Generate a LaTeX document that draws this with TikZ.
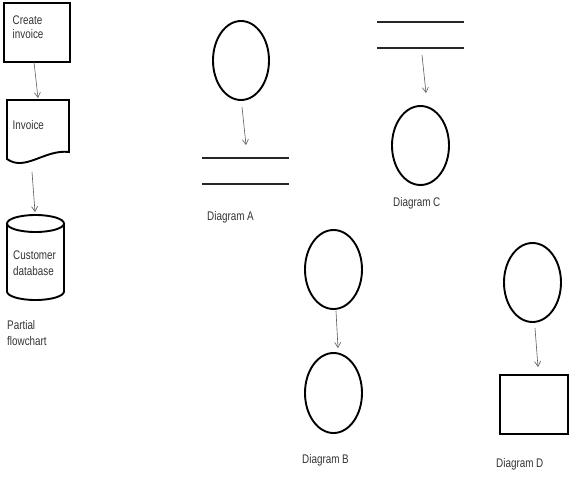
\documentclass[tikz,border=0pt]{standalone}
\usepackage{fontspec}
\setmainfont[FakeStretch=0.79]{Liberation Sans}
\usetikzlibrary{shapes.geometric,arrows.meta}
\begin{document}
\begin{tikzpicture}[x=1pt,y=-1pt,
  shp/.style={draw=black,line width=1.9pt},
  circ/.style={shp,ellipse,minimum width=56pt,minimum height=79pt,inner sep=0pt},
  store/.style={draw=black!85,line width=1.2pt},
  arr/.style={draw=black!65,line width=0.6pt,-{Straight Barb[length=5pt,width=6pt]}},
  lbl/.style={font=\fontsize{12.5}{15}\selectfont,text=black!80,inner sep=0pt,anchor=base west,align=left}]
\useasboundingbox (0,0) rectangle (584,477);

% Partial flowchart
\node[shp,line width=2pt,rectangle,minimum width=66pt,minimum height=59pt,inner sep=0pt,anchor=north west] (create) at (3,2) {};
\node[lbl,anchor=north west,font=\fontsize{12.5}{14.5}\selectfont] (createtxt) at (12.5,15.5) {Create\\invoice};

\draw[shp] (7,100) -- (69,100) -- (69,152) .. controls (45,149) and (25,172) .. (7,159) -- cycle;
\node[lbl] (invtxt) at (12.5,129) {Invoice};

\draw[shp] (35.5,223.5) ellipse [x radius=28.5, y radius=8.5];
\draw[shp] (7,223.5) -- (7,291.5) arc[start angle=180,end angle=0,x radius=28.5,y radius=8.5] -- (64,223.5);
\node[lbl,anchor=north west,font=\fontsize{12.5}{16.5}\selectfont] (custtxt) at (13,250.5) {Customer\\database};

\node[lbl,anchor=north west,font=\fontsize{12.5}{16}\selectfont] (partial) at (7,320.5) {Partial\\flowchart};

\coordinate (f1s) at (34,62);  \coordinate (f1e) at (38,98);
\coordinate (f2s) at (32,172); \coordinate (f2e) at (35,212);
\draw[arr] (f1s) -- (f1e);
\draw[arr] (f2s) -- (f2e);

% Diagram A
\node[circ] (cA) at (241,60.5) {};
\coordinate (sA1l) at (202,158); \coordinate (sA1r) at (289,158);
\coordinate (sA2l) at (202,184); \coordinate (sA2r) at (289,184);
\draw[store] (sA1l) -- (sA1r);
\draw[store] (sA2l) -- (sA2r);
\coordinate (aAs) at (242,107); \coordinate (aAe) at (246,145);
\draw[arr] (aAs) -- (aAe);
\node[lbl] (lA) at (207,220) {Diagram A};

% Diagram C
\coordinate (sC1l) at (377,22); \coordinate (sC1r) at (464,22);
\coordinate (sC2l) at (377,48); \coordinate (sC2r) at (464,48);
\draw[store] (sC1l) -- (sC1r);
\draw[store] (sC2l) -- (sC2r);
\node[circ,minimum width=57pt] (cC) at (420.5,145.5) {};
\coordinate (aCs) at (422,55); \coordinate (aCe) at (426,93);
\draw[arr] (aCs) -- (aCe);
\node[lbl] (lC) at (393,206) {Diagram C};

% Diagram B
\node[circ,minimum width=57pt] (cB1) at (333.5,269.5) {};
\node[circ,minimum width=57pt,minimum height=80pt] (cB2) at (333.5,393) {};
\coordinate (aBs) at (336,311); \coordinate (aBe) at (338,348);
\draw[arr] (aBs) -- (aBe);
\node[lbl] (lB) at (302,463) {Diagram B};

% Diagram D
\node[circ,minimum width=57pt] (cD) at (532.5,282.5) {};
\node[shp,rectangle,minimum width=68pt,minimum height=59pt,inner sep=0pt,anchor=north west] (rD) at (499,374) {};
\coordinate (aDs) at (535,328); \coordinate (aDe) at (538,367);
\draw[arr] (aDs) -- (aDe);
\node[lbl] (lD) at (496,467) {Diagram D};
\end{tikzpicture}
\end{document}
